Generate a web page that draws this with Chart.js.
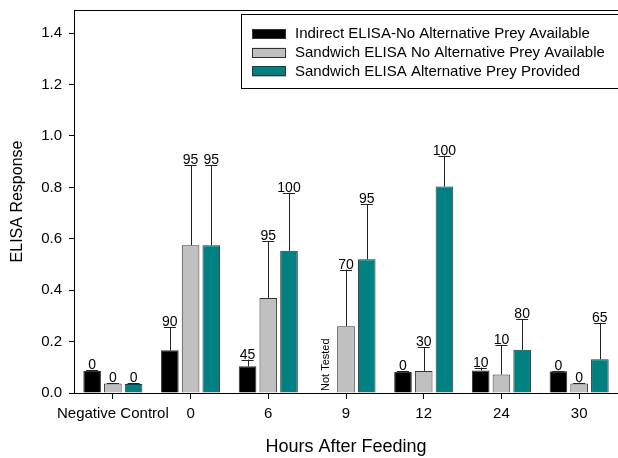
<!DOCTYPE html>
<html>
<head>
<meta charset="utf-8">
<script src="https://cdn.jsdelivr.net/npm/chart.js@4/dist/chart.umd.min.js"></script>
<style>
  html, body { margin: 0; padding: 0; background: #fff; }
  #wrap { width: 618px; height: 458px; }
</style>
</head>
<body>
<div id="wrap"><canvas id="elisaChart" width="618" height="458"></canvas></div>
<script>
// ============================================
// DATA
// ============================================
const categories = ['Negative Control', '0', '6', '9', '12', '24', '30'];
const seriesNames = [
    'Indirect ELISA-No Alternative Prey Available',
    'Sandwich ELISA No Alternative Prey Available',
    'Sandwich ELISA Alternative Prey Provided'
];
// mean responses
const indirectNoPrey = [0.086, 0.166, 0.104, null, 0.082, 0.088, 0.085];
const sandwichNoPrey = [0.037, 0.575, 0.370, 0.260, 0.086, 0.072, 0.037];
const sandwichPrey   = [0.035, 0.575, 0.553, 0.520, 0.803, 0.168, 0.131];
// upper end of error bars
const indirectNoPreyErr = [0.090, 0.255, 0.130, null, 0.085, 0.099, 0.087];
const sandwichNoPreyErr = [0.039, 0.887, 0.591, 0.480, 0.179, 0.186, 0.040];
const sandwichPreyErr   = [0.037, 0.887, 0.779, 0.734, 0.923, 0.286, 0.273];
// percent positive labels
const indirectNoPreyPct = ['0', '90', '45', null, '0', '10', '0'];
const sandwichNoPreyPct = ['0', '95', '95', '70', '30', '10', '0'];
const sandwichPreyPct   = ['0', '95', '100', '95', '100', '80', '65'];
const yTicks = [0, 0.2, 0.4, 0.6, 0.8, 1.0, 1.2, 1.4];

const FONT = 'Liberation Sans, Arial, sans-serif';
const colors = ['#000000', '#c0c0c0', '#008080'];

// ============================================
// PLUGINS
// ============================================
const errorBarPlugin = {
    id: 'errorBars',
    afterDatasetsDraw(chart) {
        const ctx = chart.ctx;
        const y = chart.scales.y;
        const errs = [indirectNoPreyErr, sandwichNoPreyErr, sandwichPreyErr];
        const pcts = [indirectNoPreyPct, sandwichNoPreyPct, sandwichPreyPct];
        ctx.save();
        chart.data.datasets.forEach((ds, di) => {
            const meta = chart.getDatasetMeta(di);
            meta.data.forEach((bar, i) => {
                if (ds.data[i] === null) {
                    // not tested
                    ctx.save();
                    ctx.translate(bar.x + 4, y.getPixelForValue(0) - 2);
                    ctx.rotate(-Math.PI / 2);
                    ctx.fillStyle = '#000';
                    ctx.font = '11px ' + FONT;
                    ctx.textAlign = 'left';
                    ctx.textBaseline = 'alphabetic';
                    ctx.fillText('Not Tested', 0, 0);
                    ctx.restore();
                    return;
                }
                const top = y.getPixelForValue(errs[di][i]);
                ctx.strokeStyle = '#222';
                ctx.lineWidth = 1;
                ctx.beginPath();
                ctx.moveTo(Math.round(bar.x) + 0.5, bar.y);
                ctx.lineTo(Math.round(bar.x) + 0.5, top);
                ctx.moveTo(bar.x - 6, Math.round(top) + 0.5);
                ctx.lineTo(bar.x + 6, Math.round(top) + 0.5);
                ctx.stroke();
                ctx.fillStyle = '#000';
                ctx.font = '14px ' + FONT;
                ctx.textAlign = 'center';
                ctx.textBaseline = 'alphabetic';
                ctx.fillText(pcts[di][i], bar.x, Math.round(top) - 1);
            });
        });
        ctx.restore();
    }
};

const frameLegendPlugin = {
    id: 'frameLegend',
    afterDraw(chart) {
        const ctx = chart.ctx;
        const area = chart.chartArea;
        ctx.save();
        // top frame line
        ctx.strokeStyle = '#000';
        ctx.lineWidth = 1;
        ctx.beginPath();
        ctx.moveTo(area.left, area.top + 0.5);
        ctx.lineTo(area.right, area.top + 0.5);
        ctx.stroke();
        // legend box
        const lx = 241.5, ly = 14.5;
        ctx.fillStyle = '#fff';
        ctx.fillRect(lx, ly, 400, 74);
        ctx.strokeRect(lx, ly, 400, 74);
        seriesNames.forEach((name, i) => {
            const ry = 29 + i * 18.7;
            ctx.fillStyle = colors[i];
            ctx.fillRect(252, ry, 34, 10);
            ctx.strokeStyle = '#333';
            ctx.strokeRect(252.5, Math.round(ry) + 0.5, 33, 9);
            ctx.fillStyle = '#000';
            ctx.font = '15px ' + FONT;
            ctx.textAlign = 'left';
            ctx.textBaseline = 'middle';
            ctx.fillText(name, 295, ry + 5);
        });
        ctx.restore();
    }
};

// ============================================
// CHART
// ============================================
function createElisaChart() {
    const ctx = document.getElementById('elisaChart');
    const seriesData = [indirectNoPrey, sandwichNoPrey, sandwichPrey];

    new Chart(ctx, {
        type: 'bar',
        data: {
            labels: categories,
            datasets: seriesData.map((values, i) => ({
                label: seriesNames[i],
                data: values,
                backgroundColor: colors[i],
                borderColor: '#333',
                borderWidth: 1,
                categoryPercentage: 0.8,
                barPercentage: 0.85
            }))
        },
        options: {
            responsive: false,
            animation: false,
            devicePixelRatio: 1,
            layout: { padding: { top: 10, right: 0, left: 0, bottom: 0 } },
            plugins: {
                legend: { display: false },
                tooltip: { enabled: false }
            },
            scales: {
                x: {
                    afterFit: (scale) => {
                        scale.height = 65;
                        scale.paddingLeft = 0;
                        scale.paddingRight = 0;
                    },
                    grid: {
                        drawOnChartArea: false,
                        drawTicks: true,
                        tickLength: 6,
                        color: '#000',
                        offset: false
                    },
                    border: { display: true, color: '#000', width: 1 },
                    ticks: {
                        color: '#000',
                        font: { family: FONT, size: 15 },
                        padding: 6,
                        autoSkip: false,
                        maxRotation: 0
                    },
                    title: {
                        display: true,
                        text: 'Hours After Feeding',
                        color: '#000',
                        font: { family: FONT, size: 18 },
                        padding: { top: 2, bottom: 0 }
                    }
                },
                y: {
                    min: 0,
                    max: 1.49,
                    afterFit: (scale) => {
                        scale.width = 74;
                        scale.paddingTop = 0;
                        scale.paddingBottom = 0;
                    },
                    afterBuildTicks: (scale) => {
                        scale.ticks = yTicks.map(v => ({ value: v }));
                    },
                    grid: {
                        drawOnChartArea: false,
                        drawTicks: true,
                        tickLength: 5,
                        color: '#000'
                    },
                    border: { display: true, color: '#000', width: 1 },
                    ticks: {
                        color: '#000',
                        font: { family: FONT, size: 15 },
                        padding: 7,
                        callback: (v) => Number(v).toFixed(1)
                    },
                    title: {
                        display: true,
                        text: 'ELISA Response',
                        color: '#000',
                        font: { family: FONT, size: 16 },
                        padding: { top: 8, bottom: 4 }
                    }
                }
            }
        },
        plugins: [errorBarPlugin, frameLegendPlugin]
    });
}

document.addEventListener('DOMContentLoaded', createElisaChart);
</script>
</body>
</html>
